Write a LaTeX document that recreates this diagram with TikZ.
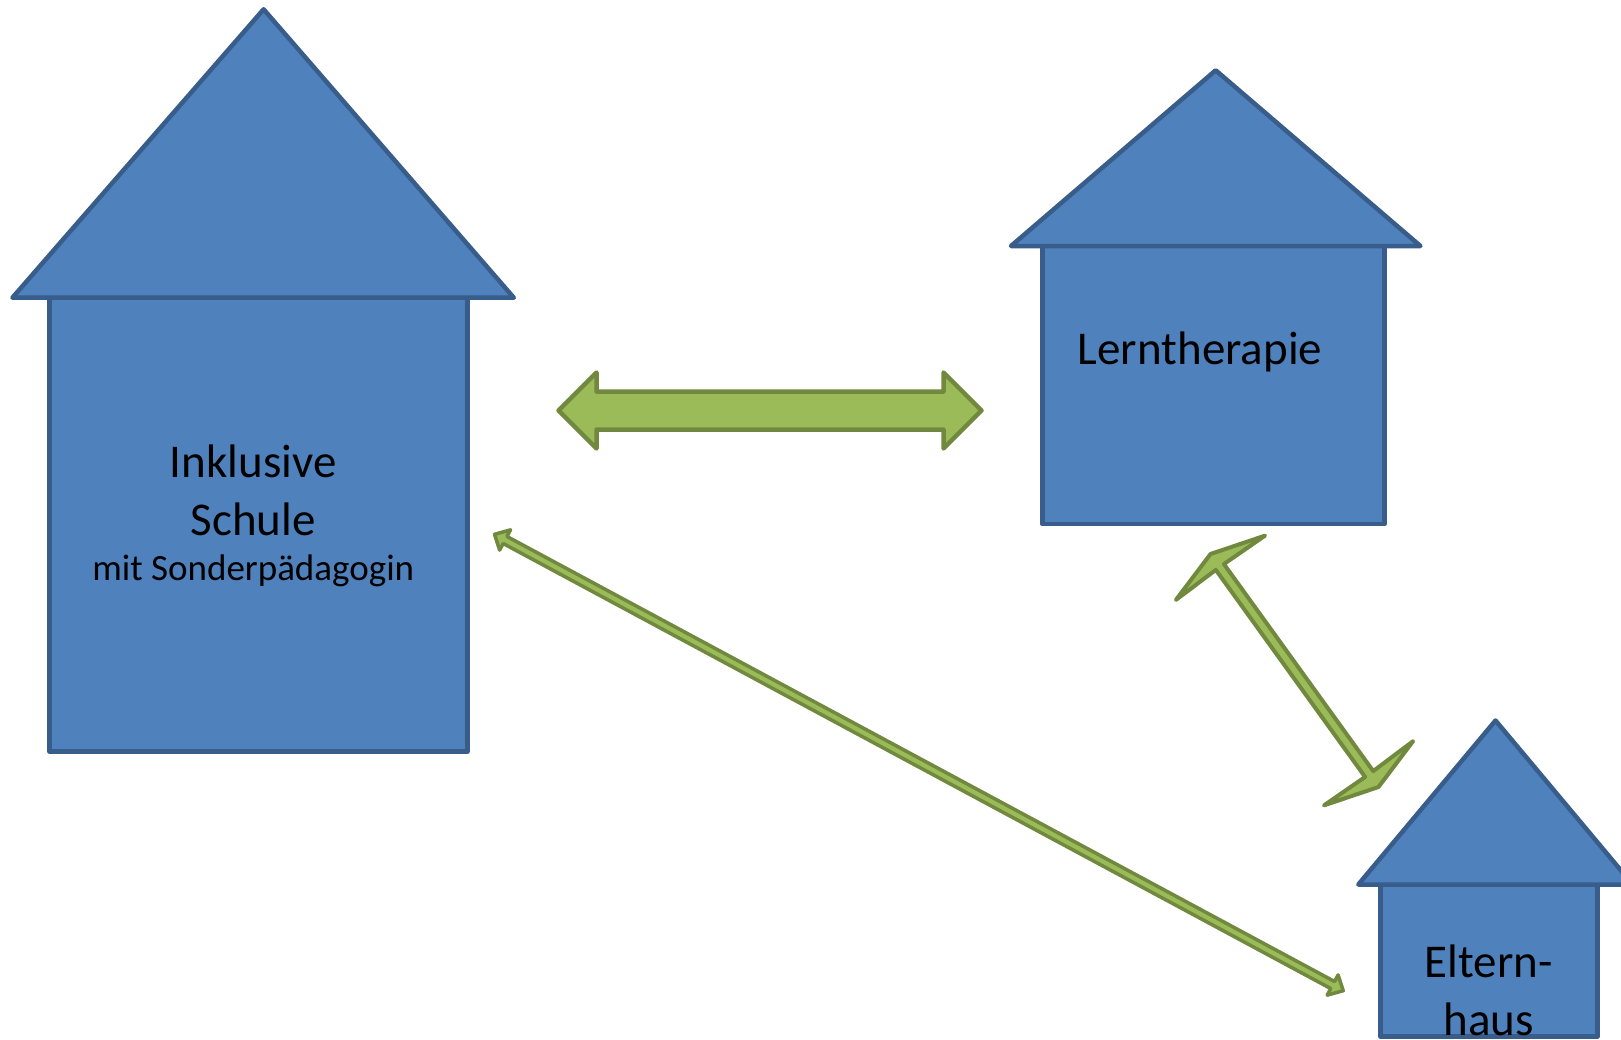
\documentclass[tikz,border=0pt]{standalone}
\usepackage{fontspec}
\setmainfont{Carlito}
\usetikzlibrary{calc}
\definecolor{hfill}{HTML}{4F81BD}
\definecolor{hline}{HTML}{385D8A}
\definecolor{afill}{HTML}{9BBB59}
\definecolor{aline}{HTML}{71893F}
\newcommand\barbarrow[7]{% #1 A, #2 B, #3 shaft half, #4 notch dist, #5 barb dist, #6 barb half, #7 style
  \draw[#7] (#1)
  -- ($(#1)!#5!(#2)!#6!90:(#2)$)
  -- ($(#1)!#4!(#2)!#3!90:(#2)$)
  -- ($(#2)!#4!(#1)!#3!-90:(#1)$)
  -- ($(#2)!#5!(#1)!#6!-90:(#1)$)
  -- (#2)
  -- ($(#2)!#5!(#1)!#6!90:(#1)$)
  -- ($(#2)!#4!(#1)!#3!90:(#1)$)
  -- ($(#1)!#4!(#2)!#3!-90:(#2)$)
  -- ($(#1)!#5!(#2)!#6!-90:(#2)$)
  -- cycle;}
\begin{document}
\begin{tikzpicture}[x=1pt,y=-1pt,
  house/.style={fill=hfill,draw=hline,line width=4.5pt,line join=round},
  arr/.style={fill=afill,draw=aline,line join=round},
  bigtext/.style={font=\fontsize{47}{56}\selectfont,inner sep=0pt,anchor=base},
  smalltext/.style={font=\fontsize{37}{44}\selectfont,inner sep=0pt,anchor=base}]
\useasboundingbox (0,0) rectangle (1621,1039);
\clip (0,0) rectangle (1621,1039);
% big house
\draw[house] (49.6,297.7) rectangle (467.3,751.6);
\draw[house] (12.4,297.7) -- (263.6,9.3) -- (513.8,297.7) -- cycle;
% Lerntherapie house
\draw[house] (1042.3,246) rectangle (1384.3,524.1);
\draw[house] (1011,246) -- (1215.7,70.3) -- (1420.4,246) -- cycle;
% Elternhaus house
\draw[house] (1380.5,884.5) rectangle (1597.5,1036.5);
\draw[house] (1358.3,884.5) -- (1495.5,720.5) -- (1632.7,884.5) -- cycle;
% texts
\node[bigtext] (t1) at (253.3,477.6) {Inklusive};
\node[bigtext] (t2) at (253.3,535.5) {Schule};
\node[smalltext] (t3) at (253.3,580) {mit Sonderpädagogin};
\node[bigtext] (t4) at (1200,364) {Lerntherapie};
\node[bigtext] (t5) at (1488.7,977) {Eltern-};
\node[bigtext] (t6) at (1488.7,1035) {haus};
% arrow endpoints
\coordinate (h1) at (558.5,410.5);
\coordinate (h2) at (981.5,410.5);
\coordinate (d1) at (494.5,534.3);
\coordinate (d2) at (1343.2,990.7);
\coordinate (e1) at (1210.5,554);
\coordinate (e2) at (1378.5,787);
\barbarrow{h1}{h2}{19pt}{38pt}{38pt}{38pt}{arr,line width=4.5pt}
\barbarrow{d1}{d2}{4pt}{12pt}{12pt}{11.5pt}{arr,line width=3.5pt}
\barbarrow{e1}{e2}{5pt}{16pt}{17pt}{55pt}{arr,line width=4pt}
\end{tikzpicture}
\end{document}
